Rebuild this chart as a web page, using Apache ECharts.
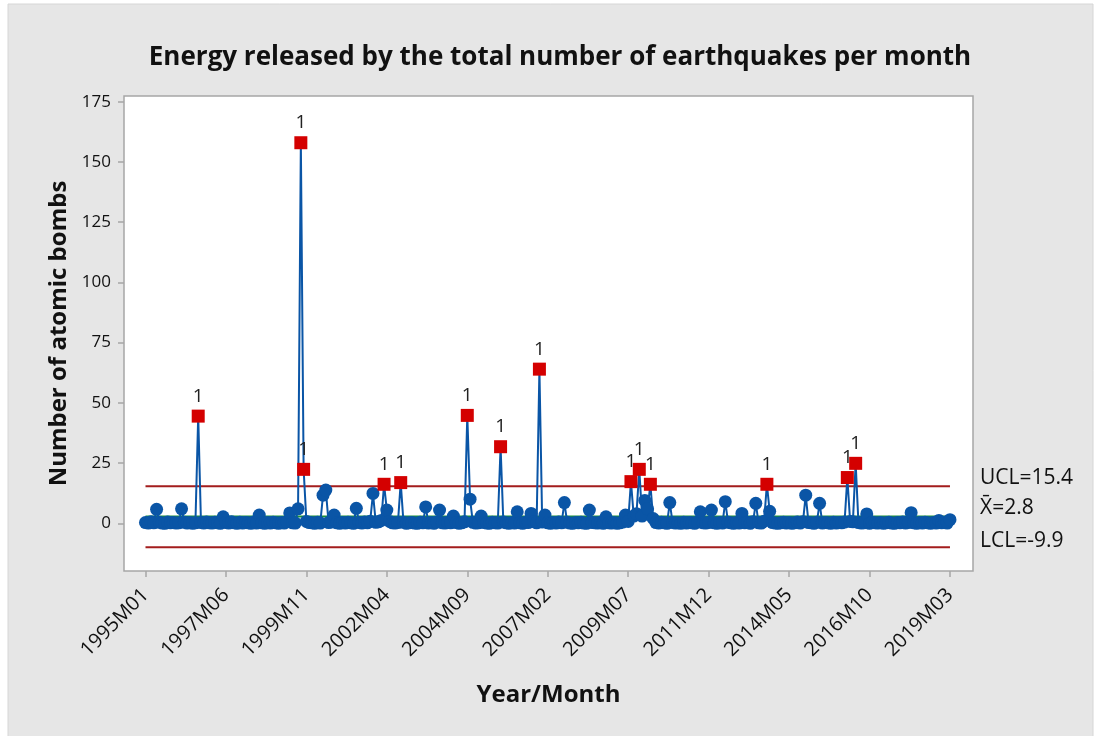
<!DOCTYPE html>
<html>
<head>
<meta charset="utf-8">
<title>Energy released by earthquakes per month</title>
<script src="https://cdn.jsdelivr.net/npm/echarts@6/dist/echarts.min.js"></script>
<style>
  html, body { margin: 0; padding: 0; background: #ffffff; }
  #chart { width: 1101px; height: 736px; }
</style>
</head>
<body>
<div id="chart"></div>
<script>
// Month index of each x-axis tick and its label (1995M01 is index 0)
const tickIndex = [0, 29, 58, 87, 116, 145, 174, 203, 232, 261, 290];
const tickLabels = ['1995M01', '1997M06', '1999M11', '2002M04', '2004M09', '2007M02',
                    '2009M07', '2011M12', '2014M05', '2016M10', '2019M03'];

// Energy per month, expressed as number of atomic bombs (one row per year)
const monthly = [
  0.3, 0.1, 0.6, 0.2, 5.8, 0.4, 0.1, 0.0, 0.5, 0.2, 0.3, 0.1,      // 1995
  0.2, 6.0, 0.4, 0.1, 0.3, 0.0, 0.2, 44.5, 0.3, 0.1, 0.5, 0.2,     // 1996
  0.1, 0.4, 0.2, 0.0, 2.7, 0.3, 0.1, 0.6, 0.2, 0.0, 0.4, 0.1,      // 1997
  0.3, 0.2, 0.0, 0.5, 0.1, 3.4, 0.2, 0.0, 0.3, 0.1, 0.4, 0.2,      // 1998
  0.0, 0.3, 0.1, 0.6, 4.3, 0.2, 0.1, 6.0, 158.0, 22.4, 0.8, 0.3,   // 1999
  0.2, 0.0, 0.4, 0.1, 11.7, 13.8, 0.3, 0.5, 3.4, 0.2, 0.0, 0.3,    // 2000
  0.1, 0.4, 0.2, 0.0, 6.2, 0.3, 0.1, 0.5, 0.2, 0.9, 12.4, 0.4,     // 2001
  0.6, 1.2, 16.2, 5.5, 0.8, 0.2, 0.1, 0.3, 16.9, 0.4, 0.0, 0.2,    // 2002
  0.3, 0.1, 0.0, 0.4, 0.2, 6.8, 0.1, 0.3, 0.0, 0.5, 5.5, 0.2,      // 2003
  0.1, 0.4, 0.2, 3.0, 0.3, 0.0, 0.2, 0.6, 44.8, 10.0, 0.4, 0.1,    // 2004
  0.2, 3.0, 0.3, 0.1, 0.0, 0.4, 0.2, 0.1, 31.8, 0.5, 0.2, 0.0,     // 2005
  0.3, 0.1, 4.8, 0.2, 0.0, 0.4, 0.3, 4.1, 0.6, 0.2, 64.0, 0.5,     // 2006
  3.4, 0.2, 0.0, 0.3, 0.1, 0.5, 0.2, 8.6, 0.4, 0.1, 0.0, 0.3,      // 2007
  0.2, 0.4, 0.1, 0.0, 5.5, 0.3, 0.2, 0.1, 0.4, 0.0, 2.7, 0.2,      // 2008
  0.1, 0.3, 0.0, 0.2, 0.5, 3.4, 0.8, 17.3, 3.0, 4.0, 22.4, 3.0,    // 2009
  9.5, 6.0, 16.2, 2.0, 0.3, 0.1, 0.4, 0.2, 0.0, 8.6, 0.3, 0.1,     // 2010
  0.2, 0.0, 0.4, 0.1, 0.3, 0.2, 0.0, 0.5, 4.8, 0.2, 0.1, 0.3,      // 2011
  5.5, 0.2, 0.0, 0.3, 0.1, 9.0, 0.4, 0.2, 0.0, 0.3, 0.1, 4.1,      // 2012
  0.2, 0.4, 0.0, 0.6, 8.3, 0.2, 0.1, 0.9, 16.2, 5.0, 0.3, 0.1,     // 2013
  0.0, 0.2, 0.4, 0.1, 0.3, 0.0, 0.2, 0.5, 0.1, 0.6, 11.7, 0.3,     // 2014
  0.2, 0.0, 0.4, 8.3, 0.1, 0.3, 0.2, 0.0, 0.4, 0.1, 0.3, 0.2,      // 2015
  0.5, 19.0, 0.8, 0.6, 24.9, 0.3, 0.1, 0.2, 3.9, 0.0, 0.4, 0.2,    // 2016
  0.1, 0.3, 0.0, 0.2, 0.4, 0.1, 0.0, 0.3, 0.2, 0.5, 0.1, 0.3,      // 2017
  4.4, 0.2, 0.0, 0.3, 0.1, 0.4, 0.2, 0.0, 0.3, 0.1, 1.2, 0.2,      // 2018
  0.4, 0.1, 1.5                                                    // 2019
];

// Control limits of the individuals chart
const UCL = 15.4;
const CENTER = 2.8;
const LCL = -9.9;

const yTicks = [0, 25, 50, 75, 100, 125, 150, 175];

const FONT = '"Open Sans", "Noto Sans", sans-serif';
const BLUE = '#0a55a6';
const RED = '#d40000';
const LIMIT = '#a31d1d';
const INK = '#111111';

const chart = echarts.init(document.getElementById('chart'), null, { renderer: 'canvas' });

const lastIndex = monthly.length - 1;

// Points above the upper limit are drawn as red squares tagged with "1"
const points = monthly.map(function (v, i) {
  if (v > UCL) {
    return {
      value: [i, v],
      symbol: 'rect',
      itemStyle: { color: RED },
      label: {
        show: true, position: 'top', distance: 4, formatter: '1',
        fontFamily: FONT, fontSize: 19, color: '#222222'
      }
    };
  }
  return [i, v];
});

function limitSeries(value, color) {
  return {
    type: 'line',
    data: [[0, value], [lastIndex, value]],
    showSymbol: false,
    silent: true,
    z: 1,
    lineStyle: { color: color, width: 2 }
  };
}

const tickStyle = { color: '#a6a6a6', width: 1.5 };

chart.setOption({
  animation: false,
  backgroundColor: '#ffffff',
  textStyle: { fontFamily: FONT },
  title: {
    text: 'Energy released by the total number of earthquakes per month',
    left: 555,
    textAlign: 'center',
    top: 40,
    textStyle: { fontFamily: FONT, fontSize: 26, fontWeight: 'bold', color: INK }
  },
  grid: {
    left: 124, right: 128, top: 96, bottom: 165,
    show: true,
    backgroundColor: '#ffffff',
    borderColor: '#a6a6a6',
    borderWidth: 1.5
  },
  xAxis: {
    type: 'value',
    min: -7.75,
    max: 298.3,
    name: 'Year/Month',
    nameLocation: 'middle',
    nameGap: 112,
    nameTextStyle: { fontFamily: FONT, fontSize: 24, fontWeight: 'bold', color: INK },
    splitLine: { show: false },
    axisLine: { show: false, onZero: false },
    axisTick: { show: true, customValues: tickIndex, length: 6, lineStyle: tickStyle },
    axisLabel: {
      customValues: tickIndex,
      rotate: 45,
      margin: 21,
      fontFamily: FONT, fontSize: 20, color: INK,
      formatter: function (v) {
        const k = tickIndex.indexOf(Math.round(v));
        return k >= 0 ? tickLabels[k] : '';
      }
    }
  },
  yAxis: {
    type: 'value',
    min: -19.8,
    max: 177.4,
    name: 'Number of atomic bombs',
    nameLocation: 'middle',
    nameGap: 52,
    nameTextStyle: { fontFamily: FONT, fontSize: 24, fontWeight: 'bold', color: INK },
    splitLine: { show: false },
    axisLine: { show: false, onZero: false },
    axisTick: { show: true, customValues: yTicks, length: 6, lineStyle: tickStyle },
    axisLabel: {
      customValues: yTicks,
      margin: 13,
      fontFamily: FONT, fontSize: 17, color: INK
    }
  },
  series: [
    limitSeries(UCL, LIMIT),
    limitSeries(LCL, LIMIT),
    limitSeries(CENTER, '#1a8f3a'),
    {
      type: 'line',
      data: points,
      symbol: 'circle',
      symbolSize: 13,
      showAllSymbol: true,
      z: 3,
      lineStyle: { color: BLUE, width: 2 },
      itemStyle: { color: BLUE }
    }
  ]
});

// Limit labels to the right of the plot, placed at each limit's height
function limitLabel(text, value, nudge) {
  const y = chart.convertToPixel({ gridIndex: 0 }, [0, value])[1];
  return {
    type: 'text',
    left: 980,
    top: y - 15 + nudge,
    style: { text: text, font: '21px ' + FONT, fill: INK }
  };
}

chart.setOption({
  graphic: [
    {
      type: 'rect',
      z: -10,
      shape: { x: 8, y: 4, width: 1085, height: 740 },
      style: { fill: '#e6e6e6', stroke: '#d6d6d6', lineWidth: 1 }
    },
    limitLabel('UCL=15.4', UCL, -4),
    limitLabel('X\u0304=2.8', CENTER, -4),
    limitLabel('LCL=-9.9', LCL, -2)
  ]
});
</script>
</body>
</html>
